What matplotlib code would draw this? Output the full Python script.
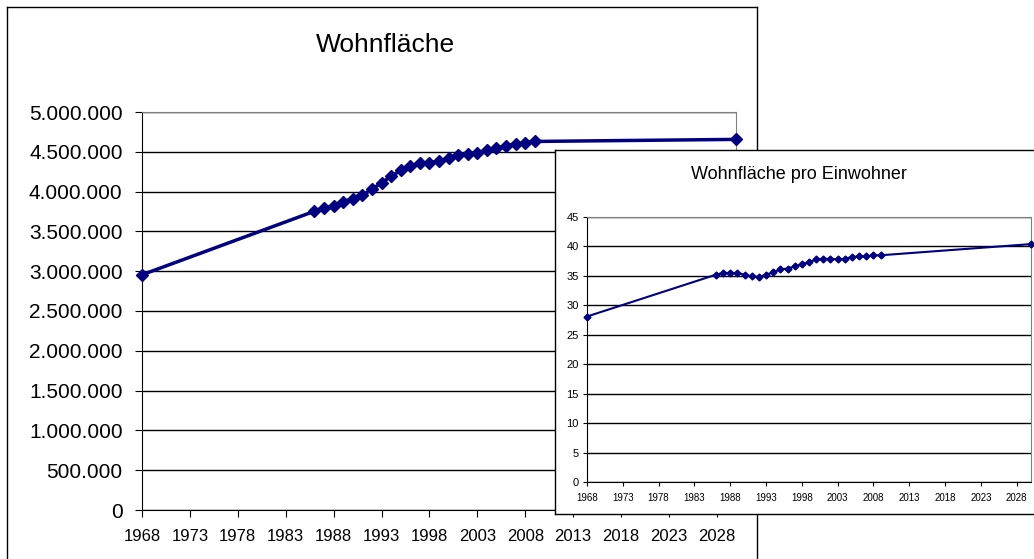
import matplotlib
matplotlib.use("Agg")
import matplotlib.pyplot as plt
from matplotlib.ticker import FuncFormatter

plt.rcParams["font.family"] = ["Liberation Sans", "DejaVu Sans"]

# data
years = [1968, 1986, 1987, 1988, 1989, 1990, 1991, 1992, 1993, 1994, 1995,
         1996, 1997, 1998, 1999, 2000, 2001, 2002, 2003, 2004, 2005, 2006,
         2007, 2008, 2009, 2030]
wohnflaeche = [2955000, 3753000, 3798000, 3820000, 3874000, 3910000, 3954000,
               4030000, 4110000, 4190000, 4267000, 4320000, 4357000, 4365000,
               4383000, 4420000, 4460000, 4477000, 4490000, 4520000, 4544000,
               4575000, 4600000, 4610000, 4630000, 4656000]
pro_einwohner = [28.1, 35.2, 35.5, 35.5, 35.5, 35.2, 34.9, 34.8, 35.2, 35.6,
                 36.1, 36.25, 36.6, 37.0, 37.3, 37.8, 37.9, 37.9, 37.8, 37.9,
                 38.2, 38.3, 38.3, 38.5, 38.5, 40.4]
year_ticks = list(range(1968, 2029, 5))

W, H = 1034, 559
LINE = "#000080"


def box(x0, y0, x1, y1):
    """pixel box (top-left origin) -> figure rect"""
    return [x0 / W, 1 - y1 / H, (x1 - x0) / W, (y1 - y0) / H]


def panel(rect, z):
    ax = fig.add_axes(rect, zorder=z)
    ax.set_xticks([])
    ax.set_yticks([])
    for s in ax.spines.values():
        s.set_color("black")
        s.set_linewidth(1)
    ax.set_facecolor("white")
    return ax


def style_plot(ax, fs_x, fs_y, ticklen, padx, pady):
    ax.set_axisbelow(True)
    ax.grid(True, axis="y", color="black", lw=1)
    ax.spines["top"].set_color("#808080")
    ax.spines["right"].set_color("#808080")
    ax.spines["left"].set_color("black")
    ax.spines["bottom"].set_color("black")
    ax.set_xticks(year_ticks)
    ax.tick_params(axis="x", direction="out", length=ticklen, labelsize=fs_x,
                   color="black", pad=padx)
    ax.tick_params(axis="y", direction="out", length=ticklen, labelsize=fs_y,
                   color="black", pad=pady)
    ax.set_xlim(1968, 2030)


fig = plt.figure(figsize=(W / 100, H / 100), dpi=100)

# main chart
panel(box(7, 7, 757, 600), 0)
ax = fig.add_axes(box(142, 112, 736, 510), zorder=1)
ax.plot(years, wohnflaeche, color=LINE, lw=2.5, marker="D", ms=6.5,
        clip_on=False, zorder=3)
ax.set_ylim(0, 5000000)
ax.set_yticks(range(0, 5000001, 500000))
ax.yaxis.set_major_formatter(
    FuncFormatter(lambda v, p: f"{int(v):,}".replace(",", ".")))
style_plot(ax, 12, 15, 5, 9, 9)
fig.text(385 / W, 1 - 45 / H, "Wohnfläche", ha="center", va="center",
         fontsize=19)

# inset chart
panel(box(555, 150, 1060, 514), 2)
ax2 = fig.add_axes(box(587, 217, 1031, 482), zorder=3)
ax2.plot(years, pro_einwohner, color=LINE, lw=1.5, marker="D", ms=3.5,
         clip_on=False, zorder=3)
ax2.set_ylim(0, 45)
ax2.set_yticks(range(0, 46, 5))
style_plot(ax2, 7, 8, 3, 5, 3)
fig.text(799 / W, 1 - 175 / H, "Wohnfläche pro Einwohner", ha="center",
         va="center", fontsize=13, zorder=4)

fig.savefig("out.png", dpi=100)
